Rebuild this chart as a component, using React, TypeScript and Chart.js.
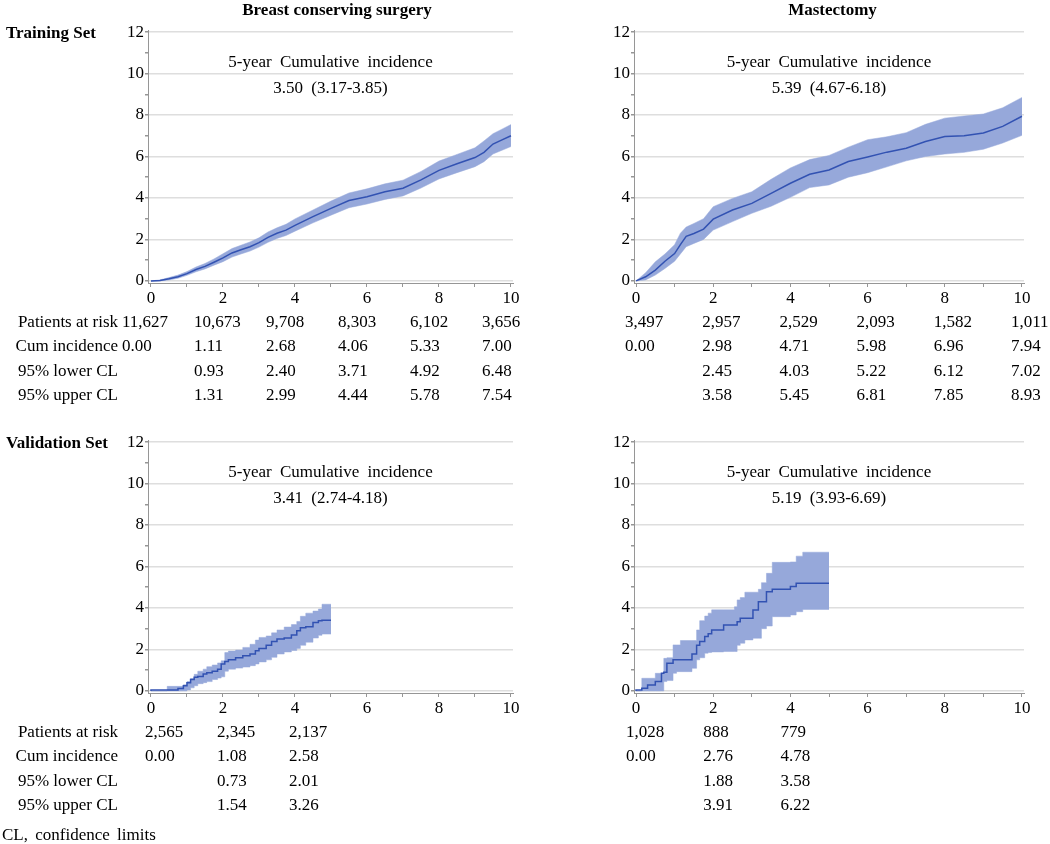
import React, { useEffect, useRef } from 'react';
import { Chart, registerables } from 'chart.js';

Chart.register(...registerables);

const FONT = "'Liberation Serif', 'Times New Roman', Times, serif";

// ---------- shared axis / table labels ----------
const xTickValues = [0, 1, 2, 3, 4, 5, 6, 7, 8, 9, 10];
const yTickValues = [0, 1, 2, 3, 4, 5, 6, 7, 8, 9, 10, 11, 12];
const riskTimes = [0, 2, 4, 6, 8, 10];
const rowLabels = ['Patients at risk', 'Cum incidence', '95% lower CL', '95% upper CL'];
const columnTitles = ['Breast conserving surgery', 'Mastectomy'];
const rowTitles = ['Training Set', 'Validation Set'];
const annotationTitle = '5-year Cumulative incidence';
const footnote = 'CL, confidence limits';

// ---------- Training set, breast conserving surgery ----------
const bcsTrainTime = [0, 0.25, 0.5, 0.75, 1, 1.25, 1.5, 1.75, 2, 2.25, 2.5, 2.75, 3, 3.25, 3.5, 3.75, 4, 4.5, 5, 5.5, 6, 6.5, 7, 7.5, 8, 8.5, 9, 9.25, 9.5, 9.75, 10];
const bcsTrainEst = [0, 0.02, 0.1, 0.2, 0.35, 0.55, 0.7, 0.9, 1.11, 1.35, 1.5, 1.65, 1.85, 2.1, 2.3, 2.45, 2.68, 3.1, 3.5, 3.88, 4.06, 4.3, 4.47, 4.87, 5.33, 5.65, 5.95, 6.2, 6.6, 6.8, 7.0];
const bcsTrainLow = [0, 0, 0.05, 0.13, 0.27, 0.44, 0.58, 0.76, 0.93, 1.15, 1.3, 1.44, 1.63, 1.86, 2.05, 2.19, 2.4, 2.8, 3.17, 3.53, 3.71, 3.93, 4.1, 4.48, 4.92, 5.22, 5.51, 5.75, 6.12, 6.3, 6.48];
const bcsTrainUp = [0, 0.05, 0.16, 0.28, 0.45, 0.67, 0.84, 1.06, 1.31, 1.56, 1.72, 1.88, 2.08, 2.36, 2.56, 2.73, 2.99, 3.42, 3.85, 4.24, 4.44, 4.68, 4.86, 5.28, 5.78, 6.1, 6.42, 6.75, 7.1, 7.32, 7.54];
const bcsTrainAtRisk = ['11,627', '10,673', '9,708', '8,303', '6,102', '3,656'];
const bcsTrainCum = ['0.00', '1.11', '2.68', '4.06', '5.33', '7.00'];
const bcsTrainLowCL = ['', '0.93', '2.40', '3.71', '4.92', '6.48'];
const bcsTrainUpCL = ['', '1.31', '2.99', '4.44', '5.78', '7.54'];
const bcsTrainFiveYear = '3.50 (3.17-3.85)';

// ---------- Training set, mastectomy ----------
const mastTrainTime = [0, 0.25, 0.5, 0.75, 1, 1.15, 1.3, 1.5, 1.75, 2, 2.5, 3, 3.5, 4, 4.5, 5, 5.5, 6, 6.5, 7, 7.5, 8, 8.5, 9, 9.5, 10];
const mastTrainEst = [0, 0.2, 0.52, 0.95, 1.32, 1.75, 2.15, 2.29, 2.5, 2.98, 3.42, 3.74, 4.22, 4.71, 5.14, 5.35, 5.76, 5.98, 6.21, 6.4, 6.72, 6.96, 7.0, 7.13, 7.45, 7.94];
const mastTrainLow = [0, 0.05, 0.28, 0.6, 0.95, 1.3, 1.65, 1.81, 2.0, 2.45, 2.86, 3.26, 3.6, 4.03, 4.5, 4.63, 5.0, 5.22, 5.5, 5.79, 6.0, 6.12, 6.2, 6.35, 6.65, 7.02];
const mastTrainUp = [0, 0.4, 0.92, 1.3, 1.75, 2.3, 2.6, 2.77, 3.0, 3.58, 3.98, 4.3, 4.9, 5.45, 5.85, 6.05, 6.45, 6.81, 6.95, 7.15, 7.55, 7.85, 7.95, 8.05, 8.35, 8.85];
const mastTrainAtRisk = ['3,497', '2,957', '2,529', '2,093', '1,582', '1,011'];
const mastTrainCum = ['0.00', '2.98', '4.71', '5.98', '6.96', '7.94'];
const mastTrainLowCL = ['', '2.45', '4.03', '5.22', '6.12', '7.02'];
const mastTrainUpCL = ['', '3.58', '5.45', '6.81', '7.85', '8.93'];
const mastTrainFiveYear = '5.39 (4.67-6.18)';

// ---------- Validation set, breast conserving surgery ----------
const bcsValTime = [0, 0.45, 0.75, 0.9, 1.0, 1.1, 1.2, 1.3, 1.45, 1.55, 1.7, 1.85, 1.95, 2.05, 2.15, 2.35, 2.55, 2.75, 2.9, 3.0, 3.2, 3.35, 3.5, 3.7, 3.9, 4.05, 4.15, 4.3, 4.5, 4.65, 4.75, 5.0];
const bcsValEst = [0, 0.04, 0.05, 0.12, 0.25, 0.4, 0.55, 0.66, 0.7, 0.82, 0.88, 0.95, 1.05, 1.3, 1.42, 1.5, 1.6, 1.7, 1.78, 1.94, 2.05, 2.2, 2.38, 2.5, 2.55, 2.7, 2.9, 3.05, 3.1, 3.3, 3.38, 3.41];
const bcsValLow = [0, 0, 0, 0, 0.05, 0.15, 0.25, 0.35, 0.4, 0.45, 0.55, 0.62, 0.68, 0.95, 1.05, 1.1, 1.15, 1.22, 1.3, 1.4, 1.5, 1.62, 1.78, 1.88, 1.95, 2.05, 2.2, 2.35, 2.55, 2.68, 2.74, 2.74];
const bcsValUp = [0, 0.22, 0.22, 0.3, 0.45, 0.6, 0.8, 0.95, 1.05, 1.17, 1.25, 1.35, 1.45, 1.85, 1.92, 1.97, 2.1, 2.25, 2.45, 2.58, 2.65, 2.8, 2.94, 3.08, 3.2, 3.35, 3.6, 3.75, 3.85, 3.95, 4.18, 4.18];
const bcsValAtRisk = ['2,565', '2,345', '2,137'];
const bcsValCum = ['0.00', '1.08', '2.58'];
const bcsValLowCL = ['', '0.73', '2.01'];
const bcsValUpCL = ['', '1.54', '3.26'];
const bcsValFiveYear = '3.41 (2.74-4.18)';

// ---------- Validation set, mastectomy ----------
const mastValTime = [0, 0.15, 0.3, 0.5, 0.66, 0.72, 0.8, 0.96, 1.05, 1.15, 1.45, 1.57, 1.65, 1.78, 1.87, 1.96, 2.27, 2.55, 2.62, 2.7, 2.82, 3.03, 3.17, 3.25, 3.38, 3.53, 4.0, 4.15, 4.32, 5.0];
const mastValEst = [0, 0.05, 0.13, 0.29, 0.45, 0.85, 0.9, 1.33, 1.5, 1.5, 1.5, 1.78, 2.2, 2.38, 2.62, 2.76, 2.94, 3.18, 3.18, 3.34, 3.5, 3.5, 3.9, 4.3, 4.3, 4.78, 4.9, 5.03, 5.19, 5.19];
const mastValLow = [0, 0, 0, 0, 0, 0.45, 0.5, 0.85, 0.93, 0.93, 1.09, 1.5, 1.6, 1.82, 1.85, 1.88, 1.9, 1.9, 2.2, 2.3, 2.46, 2.54, 2.54, 3.0, 3.13, 3.58, 3.66, 3.82, 3.93, 3.93];
const mastValUp = [0, 0.61, 0.61, 0.85, 0.85, 1.57, 1.6, 2.22, 2.22, 2.43, 2.43, 2.94, 3.39, 3.61, 3.75, 3.91, 3.91, 4.06, 4.39, 4.5, 4.76, 4.76, 4.9, 5.22, 5.67, 6.2, 6.22, 6.5, 6.69, 6.69];
const mastValAtRisk = ['1,028', '888', '779'];
const mastValCum = ['0.00', '2.76', '4.78'];
const mastValLowCL = ['', '1.88', '3.58'];
const mastValUpCL = ['', '3.91', '6.22'];
const mastValFiveYear = '5.19 (3.93-6.69)';

// ---------- styles ----------
const LINE = 'rgb(50, 82, 178)';
const BAND = 'rgb(150, 168, 218)';
const GRID = 'rgb(222, 222, 222)';
const AXIS = 'rgb(150, 150, 150)';
const TEXT = '#000';

const toXY = (t: number[], v: number[]) => t.map((x, i) => ({ x, y: v[i] }));

// a step function as explicit corners: the value holds until the next time, then jumps
const toSteps = (t: number[], v: number[]) => {
  const out: { x: number; y: number }[] = [];
  t.forEach((x, i) => {
    if (i > 0) out.push({ x, y: v[i - 1] });
    out.push({ x, y: v[i] });
  });
  return out;
};

// fills the region between the lower (dataset 1) and upper (dataset 2) limit lines,
// using the pixel positions Chart.js computed for their points
const bandFill = {
  id: 'bandFill',
  beforeDatasetsDraw(chart: any, _args: any, o: any) {
    if (!o || !o.enabled) return;
    const lo = chart.getDatasetMeta(1).data;
    const hi = chart.getDatasetMeta(2).data;
    if (!lo.length || !hi.length) return;
    const { ctx, chartArea } = chart;
    ctx.save();
    ctx.beginPath();
    ctx.rect(chartArea.left, chartArea.top, chartArea.right - chartArea.left, chartArea.bottom - chartArea.top);
    ctx.clip();
    ctx.beginPath();
    ctx.moveTo(hi[0].x, hi[0].y);
    for (let i = 1; i < hi.length; i++) ctx.lineTo(hi[i].x, hi[i].y);
    for (let i = lo.length - 1; i >= 0; i--) ctx.lineTo(lo[i].x, lo[i].y);
    ctx.closePath();
    ctx.fillStyle = o.color;
    ctx.fill();
    ctx.restore();
  },
};

const panelText = {
  id: 'panelText',
  afterDraw(chart: any, _args: any, o: any) {
    const { ctx, chartArea } = chart;
    const xs = chart.scales.x;
    const ys = chart.scales.y;
    ctx.save();
    ctx.fillStyle = TEXT;
    ctx.font = `17px ${FONT}`;
    try { (ctx as any).wordSpacing = '4px'; } catch (e) {}
    ctx.textAlign = 'center';
    ctx.textBaseline = 'middle';
    const cx = (chartArea.left + chartArea.right) / 2;
    ctx.fillText(annotationTitle, cx, ys.getPixelForValue(10.55));
    ctx.fillText(o.fiveYear, cx, ys.getPixelForValue(9.3));
    try { (ctx as any).wordSpacing = '0px'; } catch (e) {}
    ctx.font = `17px ${FONT}`;
    o.rows.forEach((row: string[], r: number) => {
      const y = chartArea.bottom + 39.5 + r * 24.5;
      if (o.showRowLabels) {
        ctx.textAlign = 'right';
        ctx.fillText(rowLabels[r], 118, y);
      }
      ctx.textAlign = 'left';
      row.forEach((s, i) => {
        if (s) ctx.fillText(s, xs.getPixelForValue(riskTimes[i]) + o.colOffset, y);
      });
    });
    ctx.font = `bold 17px ${FONT}`;
    if (o.title) {
      ctx.textAlign = 'center';
      ctx.fillText(o.title, o.titleX, 11);
    }
    if (o.sideLabel) {
      ctx.textAlign = 'left';
      ctx.fillText(o.sideLabel, 6, o.sideLabelY);
    }
    if (o.footnote) {
      ctx.font = `17px ${FONT}`;
      try { (ctx as any).wordSpacing = '3px'; } catch (e) {}
      ctx.textAlign = 'left';
      ctx.fillText(o.footnote, 2, o.footnoteY);
    }
    ctx.restore();
  },
};

type PanelProps = {
  left: number; top: number; width: number; height: number;
  pad: { left: number; right: number; top: number; bottom: number };
  xMin: number; xMax: number;
  time: number[]; est: number[]; low: number[]; up: number[];
  stepped: boolean;
  rows: string[][];
  fiveYear: string;
  colOffset: number;
  showRowLabels: boolean;
  title?: string; titleX?: number;
  sideLabel?: string; sideLabelY?: number;
  footnote?: string; footnoteY?: number;
};

function Panel(p: PanelProps) {
  const ref = useRef<HTMLCanvasElement>(null);
  useEffect(() => {
    const canvas = ref.current!;
    const font = { family: FONT, size: 17 };
    const bandPts = (v: number[]) => (p.stepped ? toSteps(p.time, v) : toXY(p.time, v));
    const chart = new Chart(canvas, {
      type: 'line',
      data: {
        datasets: [
          { data: toXY(p.time, p.est), borderColor: LINE, borderWidth: 1.5, pointRadius: 0, fill: false, stepped: p.stepped ? 'after' : false, tension: 0 } as any,
          { data: bandPts(p.low), borderColor: BAND, borderWidth: 0.5, pointRadius: 0, fill: false, tension: 0 },
          {
            data: bandPts(p.up), borderColor: BAND, borderWidth: 0.5, pointRadius: 0,
            fill: p.stepped ? false : '-1', backgroundColor: BAND, tension: 0,
          },
        ],
      },
      options: {
        responsive: false,
        animation: false,
        events: [],
        layout: { padding: p.pad },
        plugins: {
          legend: { display: false },
          tooltip: { enabled: false },
          bandFill: { enabled: p.stepped, color: BAND },
          panelText: {
            rows: p.rows, fiveYear: p.fiveYear, colOffset: p.colOffset, showRowLabels: p.showRowLabels,
            title: p.title, titleX: p.titleX, sideLabel: p.sideLabel, sideLabelY: p.sideLabelY,
            footnote: p.footnote, footnoteY: p.footnoteY,
          },
        } as any,
        scales: {
          x: {
            type: 'linear',
            min: p.xMin,
            max: p.xMax,
            afterBuildTicks: (a: any) => { a.ticks = xTickValues.map((v) => ({ value: v })); },
            afterFit: (a: any) => { a.height = 24; a.paddingLeft = 0; a.paddingRight = 0; },
            grid: { drawOnChartArea: false, drawTicks: true, tickLength: 4, tickColor: AXIS, color: AXIS },
            border: { display: true, color: AXIS, width: 1 },
            ticks: {
              callback: (v: any) => (Number(v) % 2 === 0 ? String(v) : ''),
              font, color: TEXT, maxRotation: 0, autoSkip: false, padding: 1,
            },
          },
          y: {
            type: 'linear',
            min: -0.1,
            max: 12.1,
            z: 1,
            afterBuildTicks: (a: any) => { a.ticks = yTickValues.map((v) => ({ value: v })); },
            afterFit: (a: any) => { a.width = 40; a.paddingTop = 0; a.paddingBottom = 0; },
            grid: {
              color: (c: any) => (c.tick && c.tick.value % 2 === 0 ? GRID : 'rgba(0,0,0,0)'),
              lineWidth: 1.5,
              tickColor: AXIS, tickLength: 3, drawTicks: true,
            },
            border: { display: true, color: AXIS, width: 1 },
            ticks: {
              callback: (v: any) => (Number(v) % 2 === 0 ? String(v) : ''),
              font, color: TEXT, padding: 1, autoSkip: false,
            },
          },
        },
      },
      plugins: [bandFill as any, panelText as any],
    });
    return () => chart.destroy();
  }, []);
  return (
    <canvas
      ref={ref}
      width={p.width}
      height={p.height}
      style={{ position: 'absolute', left: p.left, top: p.top, width: p.width, height: p.height }}
    />
  );
}

export default function App() {
  Chart.defaults.font.family = FONT;
  const leftPadTop = { left: 108, right: 12, top: 30, bottom: 108 };
  const rightPadTop = { left: 69, right: 26, top: 30, bottom: 108 };
  const leftPadBot = { left: 108, right: 12, top: 25, bottom: 127 };
  const rightPadBot = { left: 69, right: 26, top: 25, bottom: 127 };
  return (
    <div style={{ position: 'absolute', left: 0, top: 0, width: 1050, height: 844, background: '#fff' }}>
      <Panel
        left={0} top={0} width={525} height={415} pad={leftPadTop} xMin={-0.083} xMax={10.056}
        time={bcsTrainTime} est={bcsTrainEst} low={bcsTrainLow} up={bcsTrainUp} stepped={false}
        rows={[bcsTrainAtRisk, bcsTrainCum, bcsTrainLowCL, bcsTrainUpCL]} fiveYear={bcsTrainFiveYear}
        colOffset={-29} showRowLabels={true}
        title={columnTitles[0]} titleX={337} sideLabel={rowTitles[0]} sideLabelY={34}
      />
      <Panel
        left={525} top={0} width={525} height={415} pad={rightPadTop} xMin={-0.052} xMax={10.052}
        time={mastTrainTime} est={mastTrainEst} low={mastTrainLow} up={mastTrainUp} stepped={false}
        rows={[mastTrainAtRisk, mastTrainCum, mastTrainLowCL, mastTrainUpCL]} fiveYear={mastTrainFiveYear}
        colOffset={-11} showRowLabels={false}
        title={columnTitles[1]} titleX={307.5}
      />
      <Panel
        left={0} top={415} width={525} height={429} pad={leftPadBot} xMin={-0.083} xMax={10.056}
        time={bcsValTime} est={bcsValEst} low={bcsValLow} up={bcsValUp} stepped={true}
        rows={[bcsValAtRisk, bcsValCum, bcsValLowCL, bcsValUpCL]} fiveYear={bcsValFiveYear}
        colOffset={-6} showRowLabels={true}
        sideLabel={rowTitles[1]} sideLabelY={29}
        footnote={footnote} footnoteY={421}
      />
      <Panel
        left={525} top={415} width={525} height={429} pad={rightPadBot} xMin={-0.052} xMax={10.052}
        time={mastValTime} est={mastValEst} low={mastValLow} up={mastValUp} stepped={true}
        rows={[mastValAtRisk, mastValCum, mastValLowCL, mastValUpCL]} fiveYear={mastValFiveYear}
        colOffset={-10} showRowLabels={false}
      />
    </div>
  );
}
